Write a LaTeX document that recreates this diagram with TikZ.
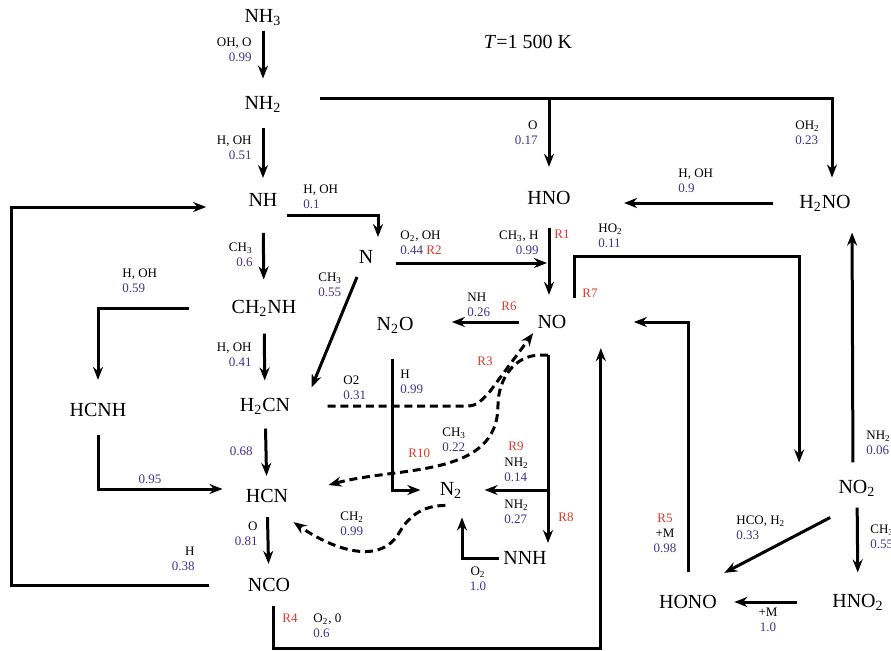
\documentclass[tikz,border=0pt]{standalone}
\usepackage{fontspec}
\setmainfont{Liberation Serif}
\usetikzlibrary{arrows.meta}
\definecolor{numblue}{RGB}{62,52,140}
\definecolor{rred}{RGB}{222,56,44}
\newcommand{\lbl}[2]{#1\\\textcolor{numblue}{#2}}

\begin{document}
\begin{tikzpicture}[x=0.5pt, y=-0.5pt,
                    sp/.style={font=\fontsize{10}{12}\selectfont, inner sep=2pt},
                    lb/.style={font=\fontsize{6.5}{7.5}\selectfont, inner sep=0pt},
                    rx/.style={font=\fontsize{6.5}{7.5}\selectfont, inner sep=0pt, text=rred},
                    arr/.style={-{Stealth[length=6.5pt,width=5pt]}, line width=1.5pt},
                    dsh/.style={arr, dash pattern=on 4pt off 2.4pt}]
  \useasboundingbox (0,0) rectangle (891,650);

  % species
  \node[sp] (nh3)  at (263,18)  {NH\textsubscript{3}};
  \node[sp] (nh2)  at (263,104) {NH\textsubscript{2}};
  \node[sp] (nh)   at (263,200) {NH};
  \node[sp] (chnh) at (264,308) {CH\textsubscript{2}NH};
  \node[sp] (hcn2) at (265,406) {H\textsubscript{2}CN};
  \node[sp] (hcnh) at (98,410)  {HCNH};
  \node[sp] (hcn)  at (267,496) {HCN};
  \node[sp] (nco)  at (269,585) {NCO};
  \node[sp] (n)    at (366,257) {N};
  \node[sp] (n2o)  at (395,325) {N\textsubscript{2}O};
  \node[sp] (hno)  at (549,198) {HNO};
  \node[sp] (no)   at (552,322) {NO};
  \node[sp] (h2no) at (825,203) {H\textsubscript{2}NO};
  \node[sp] (n2)   at (451,490) {N\textsubscript{2}};
  \node[sp] (nnh)  at (525,558) {NNH};
  \node[sp] (no2)  at (857,488) {NO\textsubscript{2}};
  \node[sp] (hono) at (688,602) {HONO};
  \node[sp] (hno2) at (858,602) {HNO\textsubscript{2}};
  \node[sp] (title) at (528,42) {\textit{T}=1 500 K};

  % main chain
  \draw[arr, shorten >=6.5pt] (nh3) -- (nh2);
  \draw[arr, shorten <=6pt, shorten >=5.5pt] (nh2) -- (nh);
  \draw[arr, shorten <=11pt, shorten >=8pt] (nh) -- (chnh);
  \draw[arr, shorten <=6.5pt, shorten >=6.5pt] (chnh) -- (hcn2);
  \draw[arr, shorten <=5pt, shorten >=4.5pt] (hcn2) -- (hcn);
  \draw[arr, shorten <=5pt, shorten >=5pt] (hcn) -- (nco);

  % NH2 branches
  \coordinate (nh2r) at ([shift={(17pt,3pt)}]nh2.east);
  \draw[arr, shorten >=6.5pt] (nh2r) -| ([xshift=3.5pt]h2no.north);
  \draw[arr, shorten >=10pt] (nh2r -| hno) -- (hno);

  % NH, CH2NH, N
  \draw[arr, shorten >=4.5pt] ([shift={(2.5pt,-7.5pt)}]nh.east) -| ([xshift=6pt]n.north);
  \draw[arr, shorten <=19pt, shorten >=9.5pt] (chnh.west) -| (hcnh.north);
  \draw[arr] ([shift={(-4.5pt,-10pt)}]n.center) -- ([shift={(8.5pt,3pt)}]hcn2.north east);
  \coordinate (nr) at ([shift={(9pt,-3pt)}]n.east);
  \draw[arr, shorten >=1pt] (nr) -- (nr -| hno);

  % HNO, H2NO, NO
  \draw[arr, shorten <=9.5pt, shorten >=8pt] (hno) -- (hno |- no.north);
  \draw[arr, shorten <=11pt, shorten >=24.5pt] (h2no.west) -- (h2no.west -| hno.east);
  \draw[arr] ([shift={(11pt,12pt)}]no.center) -- ++(0,-42) -| ([shift={(-17.5pt,6.5pt)}]no2.north west);
  \draw[arr, shorten <=7pt, shorten >=17pt] (no.west) -- (no.west -| n2o.east);
  \draw[arr, shorten <=10.5pt, shorten >=7.5pt] ([xshift=-1.5pt]n2o.south) |- (n2.west);

  % dashed routes
  \draw[dsh] ([xshift=16.5pt]hcn2.east) -- ++(140,0) to[out=0,in=225] ++(22,-14) -- (no.south west);
  \coordinate (nob) at ([shift={(-2pt,-11pt)}]no.south);
  \draw[dsh] (nob) -- ++(-8,0) to[out=180,in=90] ++(-42,50) to[out=-90,in=15] ([shift={(18pt,5.5pt)}]hcn.east);
  \draw[dsh] ([shift={(5pt,-1.5pt)}]n2.south west) to[out=180,in=60] ++(-46,27) to[out=-120,in=-35] ([shift={(0.5pt,-7.5pt)}]hcn.south east);

  % NO to N2 and NNH
  \draw[arr, shorten >=2pt] (nob) -- (nob |- nnh.north);
  \draw[arr, shorten >=9pt] (nob |- n2) -- (n2.east);
  \draw[arr, shorten >=7.5pt] (nnh.west) -| ([xshift=5.5pt]n2.south);

  % HCNH, NCO
  \draw[arr, shorten <=7pt, shorten >=9.5pt] (hcnh.south) |- ([yshift=3.5pt]hcn.west);
  \draw[arr, shorten <=17pt, shorten >=19pt] (nco.west) -- ++(-232,0) |- ([yshift=-3.5pt]nh.west);
  \draw[arr, shorten <=5pt] ([xshift=2pt]nco.south) -- ++(0,52) -| ([shift={(15pt,-7.5pt)}]no.south east);

  % NO2, HONO, HNO2
  \draw[arr, shorten <=9.5pt, shorten >=31.5pt] (hono) |- (no);
  \draw[arr, shorten <=6.5pt, shorten >=8.5pt] ([xshift=-2pt]no2.north) -- ([xshift=13.5pt]h2no.south);
  \draw[arr] ([shift={(-2pt,-8.5pt)}]no2.south west) -- ([shift={(1.5pt,9pt)}]hono.north east);
  \draw[arr, shorten <=3.5pt, shorten >=8.5pt] (no2) -- (hno2);
  \draw[arr, shorten <=15.5pt, shorten >=6.5pt] (hno2) -- (hono);

  % labels
  \node[lb, anchor=east, align=right] (l1) at (252,50) {\lbl{OH, O}{0.99}};
  \node[lb, anchor=east, align=right] (l2) at (252,148) {\lbl{H, OH}{0.51}};
  \node[lb, anchor=west, align=left] (l3) at (303,197) {\lbl{H, OH}{0.1}};
  \node[lb, anchor=east, align=right] (l4) at (253,255) {\lbl{CH\textsubscript{3}}{0.6}};
  \node[lb, anchor=west, align=left] (l5) at (122,281) {\lbl{H, OH}{0.59}};
  \node[lb, anchor=east, align=right] (l6) at (252,355) {\lbl{H, OH}{0.41}};
  \node[lb, anchor=west, align=left] (l7) at (318,285) {\lbl{CH\textsubscript{3}}{0.55}};
  \node[lb, anchor=west, align=left] (l8) at (343,388) {\lbl{O2}{0.31}};
  \node[lb, anchor=east, align=right] (l9) at (538,133) {\lbl{O}{0.17}};
  \node[lb, anchor=west, align=left] (l10) at (400,243) {\lbl{O\textsubscript{2}, OH}{0.44 \textcolor{rred}{R2}}};
  \node[lb, anchor=east, align=right] (l11) at (539,243) {\lbl{CH\textsubscript{3}, H}{0.99}};
  \node[rx, anchor=west] (r1) at (554,234) {R1};
  \node[lb, anchor=west, align=left] (l12) at (598,236) {\lbl{HO\textsubscript{2}}{0.11}};
  \node[rx, anchor=west] (r7) at (582,293) {R7};
  \node[lb, anchor=west, align=left] (l13) at (795,133) {\lbl{OH\textsubscript{2}}{0.23}};
  \node[lb, anchor=west, align=left] (l14) at (678,181) {\lbl{H, OH}{0.9}};
  \node[lb, anchor=west, align=left] (l15) at (467,305) {\lbl{NH}{0.26}};
  \node[rx, anchor=west] (r6) at (501,306) {R6};
  \node[rx] (r3) at (485,361) {R3};
  \node[lb, anchor=west, align=left] (l16) at (400,382) {\lbl{H}{0.99}};
  \node[lb, anchor=west, align=left] (l17) at (442,440) {\lbl{CH\textsubscript{3}}{0.22}};
  \node[rx, anchor=west] (r10) at (408,453) {R10};
  \node[rx, anchor=west] (r9) at (508,446) {R9};
  \node[lb, anchor=west, align=left] (l18) at (504,470) {\lbl{NH\textsubscript{2}}{0.14}};
  \node[lb, anchor=west, align=left] (l19) at (504,512) {\lbl{NH\textsubscript{2}}{0.27}};
  \node[rx, anchor=west] (r8) at (558,517) {R8};
  \node[lb, anchor=west, align=left] (l20) at (340,524) {\lbl{CH\textsubscript{2}}{0.99}};
  \node[lb, align=center] (l21) at (478,579) {\lbl{O\textsubscript{2}}{1.0}};
  \node[rx, anchor=west] (r4) at (282,618) {R4};
  \node[lb, anchor=west, align=left] (l22) at (313,626) {\lbl{O\textsubscript{2}, 0}{0.6}};
  \node[lb, text=numblue] (l23) at (150,479) {0.95};
  \node[lb, text=numblue, anchor=east] (l24) at (253,451) {0.68};
  \node[lb, anchor=east, align=right] (l25) at (258,534) {\lbl{O}{0.81}};
  \node[lb, anchor=east, align=right] (l26) at (195,559) {\lbl{H}{0.38}};
  \node[lb, align=center] (l27) at (665,533) {\textcolor{rred}{R5}\\+M\\\textcolor{numblue}{0.98}};
  \node[lb, anchor=west, align=left] (l28) at (736,528) {\lbl{HCO, H\textsubscript{2}}{0.33}};
  \node[lb, align=center] (l29) at (768,620) {\lbl{+M}{1.0}};
  \node[lb, anchor=west, align=left] (l30) at (866,443) {\lbl{NH\textsubscript{2}}{0.06}};
  \node[lb, anchor=west, align=left] (l31) at (870,537) {\lbl{CH\textsubscript{3}}{0.55}};
\end{tikzpicture}
\end{document}
